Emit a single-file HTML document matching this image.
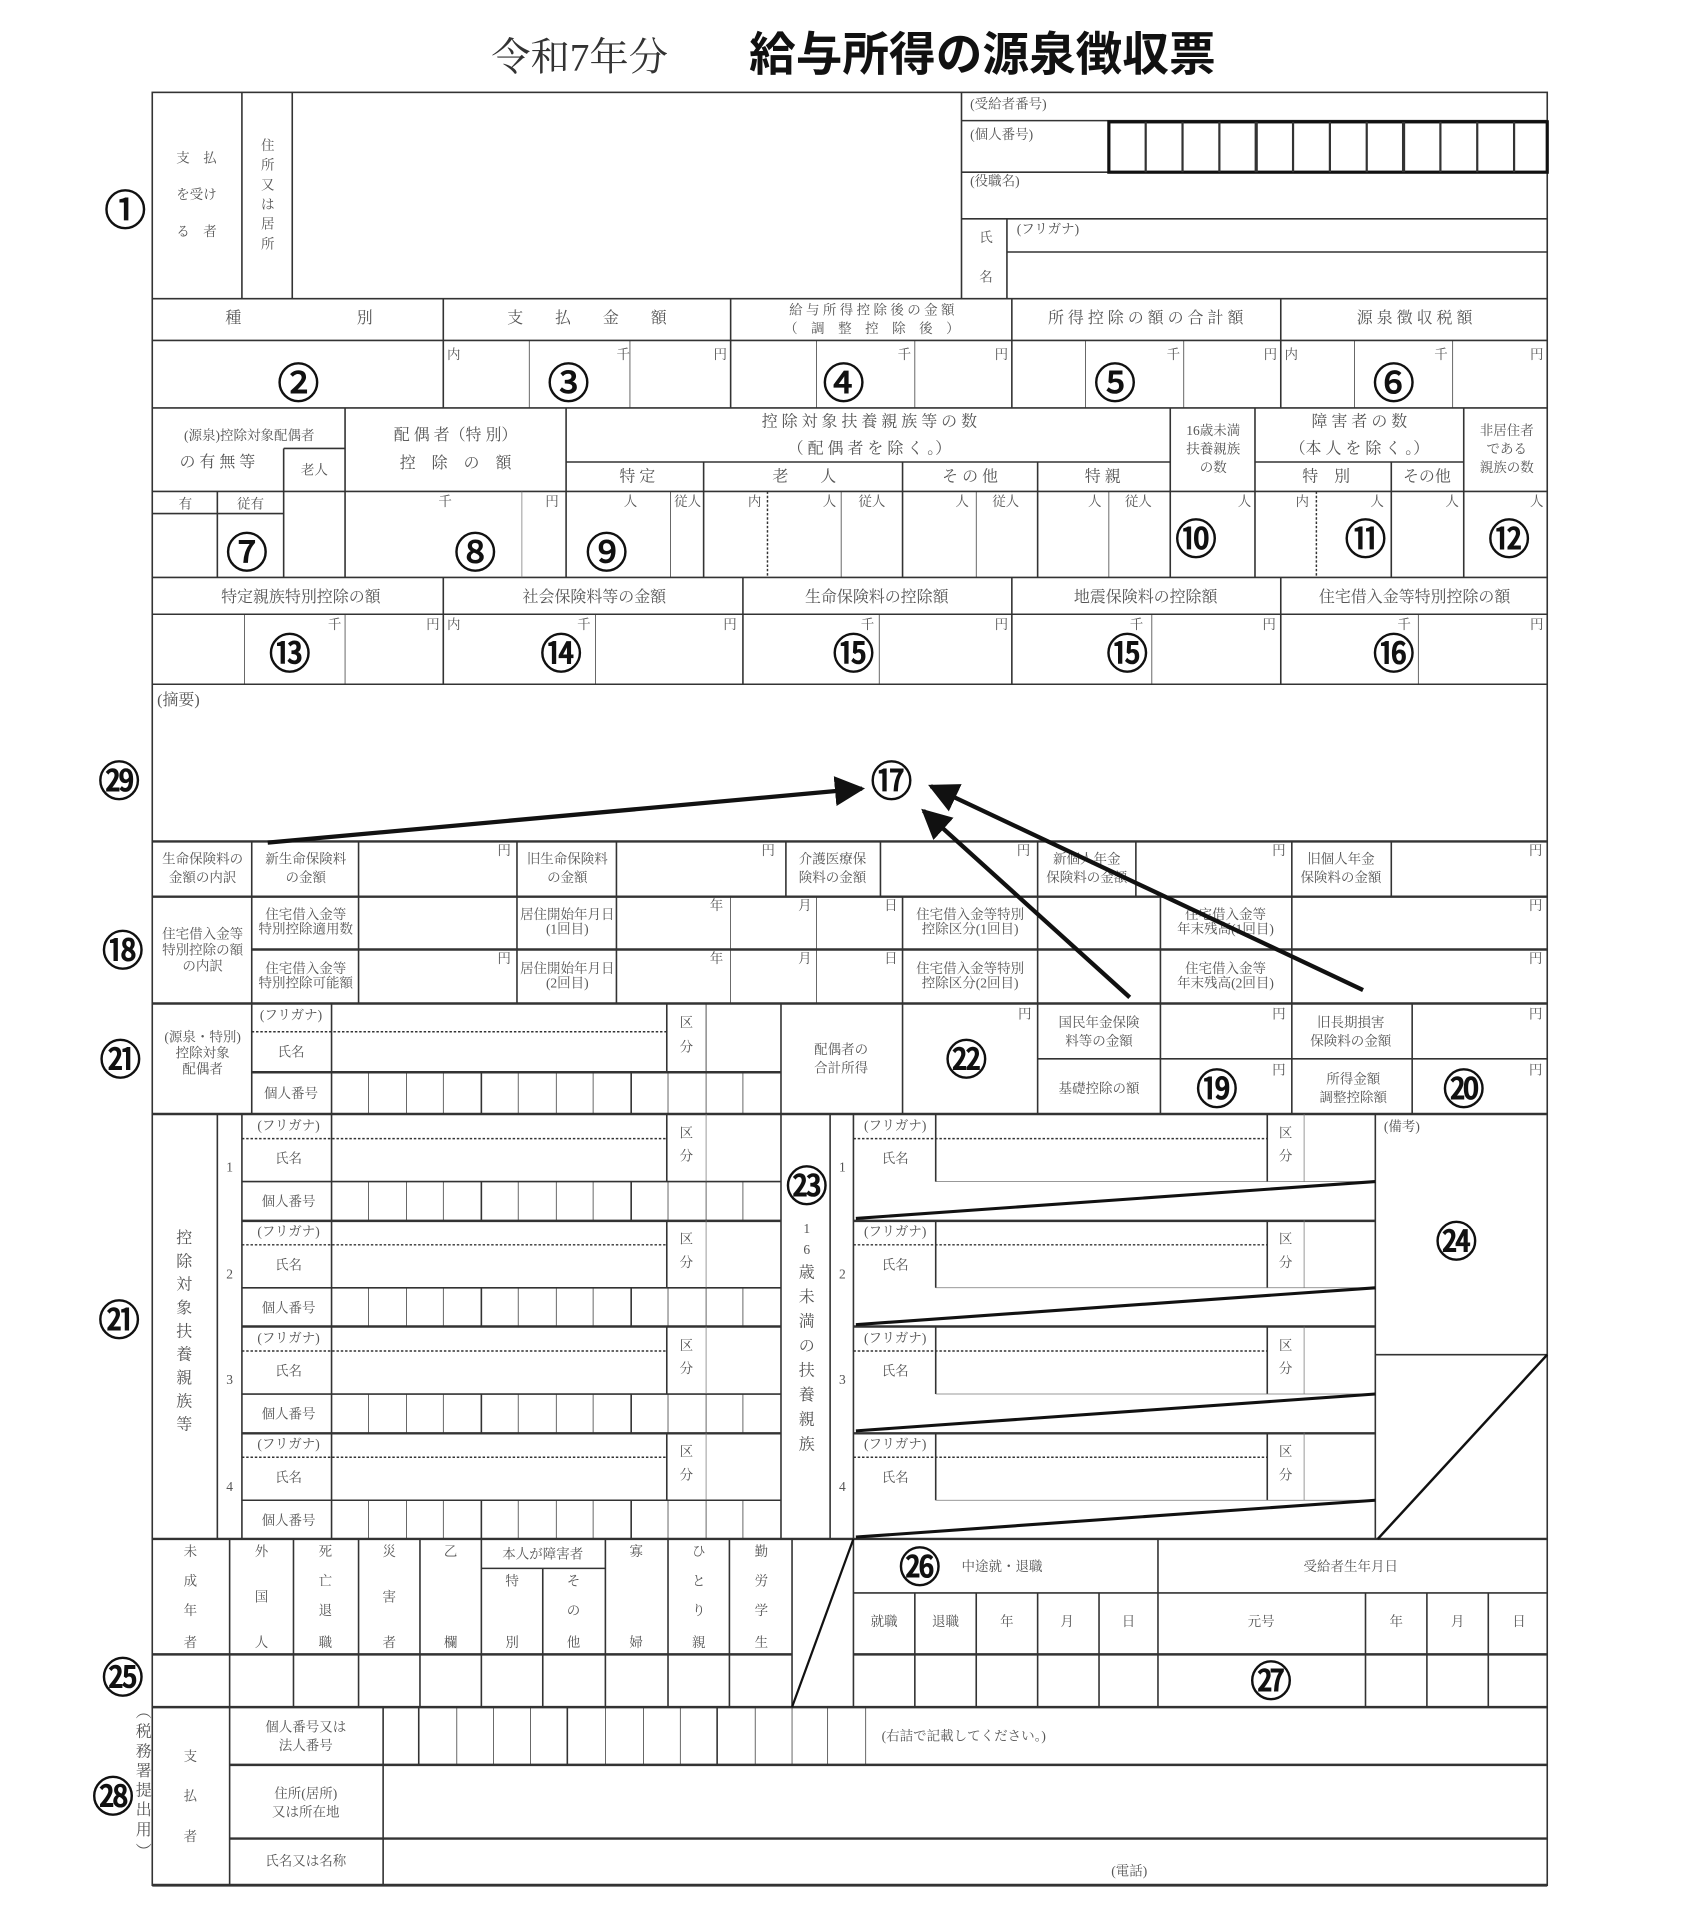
<!DOCTYPE html>
<html><head><meta charset="utf-8">
<style>
html,body{margin:0;padding:0;background:#fff;}
svg{display:block;}
text{font-family:"Liberation Serif","Noto Serif CJK SC","Noto Sans CJK JP",serif;fill:#555;}
.s{font-size:11px;}
.m{font-size:13px;}
.c{font-size:34px;fill:#111;stroke:#111;stroke-width:0.9;font-family:"Liberation Sans","Noto Sans CJK JP",sans-serif;}
line,polyline,rect{stroke:#333;fill:none;}
.t{stroke-width:0.6;stroke:#777;}
.n{stroke-width:1.3;}
.b{stroke-width:2.6;stroke:#111;}
.d{stroke-width:1.2;stroke-dasharray:2 1.5;}
</style></head><body>
<svg width="1686" height="1926" viewBox="0 0 1373 1568" xmlns="http://www.w3.org/2000/svg">
<defs><marker id="ah" viewBox="0 0 10 10" refX="9" refY="5" markerWidth="7" markerHeight="7" orient="auto"><path d="M0,0 L10,5 L0,10 z" fill="#111"/></marker></defs>
<!-- title -->
<text x="472" y="57" font-size="32" text-anchor="middle" style="fill:#333">令和7年分</text>
<text x="800" y="57" font-size="38" font-weight="bold" text-anchor="middle" style="fill:#111;font-family:'Liberation Sans','Noto Sans CJK JP',sans-serif">給与所得の源泉徴収票</text>
<!-- frame -->
<rect x="124" y="75" width="1136" height="1460" class="n"/>
<!-- section 1 -->
<line x1="197" y1="75" x2="197" y2="243" class="n"/>
<line x1="238" y1="75" x2="238" y2="243" class="n"/>
<line x1="783" y1="75" x2="783" y2="243" class="n"/>
<text x="160" y="132" class="s" text-anchor="middle">支　払</text>
<text x="160" y="162" class="s" text-anchor="middle">を受け</text>
<text x="160" y="192" class="s" text-anchor="middle">る　者</text>
<text x="218" y="122" class="s" text-anchor="middle">住</text><text x="218" y="138" class="s" text-anchor="middle">所</text><text x="218" y="154" class="s" text-anchor="middle">又</text><text x="218" y="170" class="s" text-anchor="middle">は</text><text x="218" y="186" class="s" text-anchor="middle">居</text><text x="218" y="202" class="s" text-anchor="middle">所</text>
<line x1="783" y1="98" x2="1260" y2="98" class="n"/>
<line x1="783" y1="140" x2="1260" y2="140" class="n"/>
<line x1="783" y1="178" x2="1260" y2="178" class="n"/>
<line x1="820" y1="178" x2="820" y2="243" class="n"/>
<line x1="820" y1="205" x2="1260" y2="205" class="n"/>
<text x="790" y="88" class="s">(受給者番号)</text>
<text x="790" y="113" class="s">(個人番号)</text>
<text x="790" y="151" class="s">(役職名)</text>
<text x="828" y="190" class="s">(フリガナ)</text>
<text x="803" y="197" class="s" text-anchor="middle">氏</text>
<text x="803" y="229" class="s" text-anchor="middle">名</text>
<rect x="903" y="99" width="357" height="41" class="b"/>
<g class="n" style="stroke-width:1.8;stroke:#111">
<line x1="933" y1="99" x2="933" y2="140"/><line x1="963" y1="99" x2="963" y2="140"/><line x1="993" y1="99" x2="993" y2="140"/><line x1="1023" y1="99" x2="1023" y2="140" style="stroke-width:2.6"/><line x1="1053" y1="99" x2="1053" y2="140"/><line x1="1083" y1="99" x2="1083" y2="140"/><line x1="1113" y1="99" x2="1113" y2="140"/><line x1="1143" y1="99" x2="1143" y2="140" style="stroke-width:2.6"/><line x1="1173" y1="99" x2="1173" y2="140"/><line x1="1203" y1="99" x2="1203" y2="140"/><line x1="1233" y1="99" x2="1233" y2="140"/>
</g>
<text x="102" y="183" class="c" text-anchor="middle">①</text>
<!-- row 2 -->
<line x1="124" y1="243" x2="1260" y2="243" class="n"/>
<line x1="124" y1="277" x2="1260" y2="277" class="n"/>
<line x1="124" y1="332" x2="1260" y2="332" class="n"/>
<line x1="361" y1="243" x2="361" y2="332" class="n"/>
<line x1="595" y1="243" x2="595" y2="332" class="n"/>
<line x1="824" y1="243" x2="824" y2="332" class="n"/>
<line x1="1043" y1="243" x2="1043" y2="332" class="n"/>
<text x="190" y="263" class="m" text-anchor="middle">種</text><text x="297" y="263" class="m" text-anchor="middle">別</text>
<text x="478" y="263" class="m" text-anchor="middle">支　　払　　金　　額</text>
<text x="710" y="256" class="s" text-anchor="middle">給 与 所 得 控 除 後 の 金 額</text>
<text x="710" y="271" class="s" text-anchor="middle">（　調　整　控　除　後　）</text>
<text x="933" y="263" class="m" text-anchor="middle">所 得 控 除 の 額 の 合 計 額</text>
<text x="1152" y="263" class="m" text-anchor="middle">源 泉 徴 収 税 額</text>
<g class="t"><line x1="431" y1="277" x2="431" y2="332"/><line x1="513" y1="277" x2="513" y2="332"/><line x1="665" y1="277" x2="665" y2="332"/><line x1="745" y1="277" x2="745" y2="332"/><line x1="884" y1="277" x2="884" y2="332"/><line x1="964" y1="277" x2="964" y2="332"/><line x1="1103" y1="277" x2="1103" y2="332"/><line x1="1183" y1="277" x2="1183" y2="332"/></g>
<text x="364" y="292" class="s">内</text><text x="502" y="292" class="s">千</text><text x="581" y="292" class="s">円</text>
<text x="731" y="292" class="s">千</text><text x="810" y="292" class="s">円</text>
<text x="950" y="292" class="s">千</text><text x="1029" y="292" class="s">円</text>
<text x="1046" y="292" class="s">内</text><text x="1168" y="292" class="s">千</text><text x="1246" y="292" class="s">円</text>
<text x="243" y="324" class="c" text-anchor="middle">②</text>
<text x="463" y="324" class="c" text-anchor="middle">③</text>
<text x="687" y="324" class="c" text-anchor="middle">④</text>
<text x="908" y="324" class="c" text-anchor="middle">⑤</text>
<text x="1135" y="324" class="c" text-anchor="middle">⑥</text>
<!-- row 3 -->
<line x1="124" y1="470" x2="1260" y2="470" class="n"/>
<line x1="281" y1="332" x2="281" y2="470" class="n"/>
<line x1="461" y1="332" x2="461" y2="470" class="n"/>
<line x1="953" y1="332" x2="953" y2="470" class="n"/>
<line x1="1022" y1="332" x2="1022" y2="470" class="n"/>
<line x1="1192" y1="332" x2="1192" y2="470" class="n"/>
<line x1="124" y1="400" x2="1260" y2="400" class="n"/>
<line x1="231" y1="365" x2="281" y2="365" class="n"/>
<line x1="231" y1="365" x2="231" y2="470" class="n"/>
<line x1="177" y1="400" x2="177" y2="470" class="n"/>
<line x1="124" y1="418" x2="231" y2="418" class="n"/>
<text x="203" y="358" class="s" text-anchor="middle">(源泉)控除対象配偶者</text>
<text x="177" y="380" class="m" text-anchor="middle">の 有 無 等</text>
<text x="256" y="386" class="s" text-anchor="middle">老人</text>
<text x="151" y="414" class="s" text-anchor="middle">有</text><text x="204" y="414" class="s" text-anchor="middle">従有</text>
<text x="371" y="358" class="m" text-anchor="middle">配 偶 者（特 別）</text>
<text x="371" y="381" class="m" text-anchor="middle">控　除　の　額</text>
<line x1="425" y1="400" x2="425" y2="470" class="t"/>
<text x="357" y="412" class="s">千</text><text x="444" y="412" class="s">円</text>
<text x="708" y="347" class="m" text-anchor="middle">控 除 対 象 扶 養 親 族 等 の 数</text>
<text x="708" y="369" class="m" text-anchor="middle">（ 配 偶 者 を 除 く 。）</text>
<line x1="461" y1="376" x2="953" y2="376" class="n"/>
<line x1="573" y1="376" x2="573" y2="470" class="n"/>
<line x1="735" y1="376" x2="735" y2="470" class="n"/>
<line x1="845" y1="376" x2="845" y2="470" class="n"/>
<text x="519" y="392" class="m" text-anchor="middle">特 定</text>
<text x="655" y="392" class="m" text-anchor="middle">老　　人</text>
<text x="790" y="392" class="m" text-anchor="middle">そ の 他</text>
<text x="898" y="392" class="m" text-anchor="middle">特 親</text>
<g class="t"><line x1="546" y1="400" x2="546" y2="470"/><line x1="685" y1="400" x2="685" y2="470"/><line x1="795" y1="400" x2="795" y2="470"/><line x1="903" y1="400" x2="903" y2="470"/></g>
<line x1="625" y1="400" x2="625" y2="470" class="d"/>
<line x1="1072" y1="400" x2="1072" y2="470" class="d"/>
<text x="508" y="412" class="s">人</text><text x="549" y="412" class="s">従人</text>
<text x="609" y="412" class="s">内</text><text x="670" y="412" class="s">人</text><text x="699" y="412" class="s">従人</text>
<text x="778" y="412" class="s">人</text><text x="808" y="412" class="s">従人</text>
<text x="886" y="412" class="s">人</text><text x="916" y="412" class="s">従人</text>
<text x="988" y="354" class="s" text-anchor="middle">16歳未満</text>
<text x="988" y="369" class="s" text-anchor="middle">扶養親族</text>
<text x="988" y="384" class="s" text-anchor="middle">の数</text>
<text x="1008" y="412" class="s">人</text>
<text x="1107" y="347" class="m" text-anchor="middle">障 害 者 の 数</text>
<text x="1107" y="369" class="m" text-anchor="middle">（本 人 を 除 く 。）</text>
<line x1="1022" y1="376" x2="1192" y2="376" class="n"/>
<line x1="1133" y1="376" x2="1133" y2="470" class="n"/>
<text x="1080" y="392" class="m" text-anchor="middle">特　別</text>
<text x="1162" y="392" class="m" text-anchor="middle">その他</text>
<text x="1055" y="412" class="s">内</text><text x="1116" y="412" class="s">人</text><text x="1177" y="412" class="s">人</text>
<text x="1227" y="354" class="s" text-anchor="middle">非居住者</text>
<text x="1227" y="369" class="s" text-anchor="middle">である</text>
<text x="1227" y="384" class="s" text-anchor="middle">親族の数</text>
<text x="1246" y="412" class="s">人</text>
<text x="201" y="462" class="c" text-anchor="middle">⑦</text>
<text x="387" y="462" class="c" text-anchor="middle">⑧</text>
<text x="494" y="462" class="c" text-anchor="middle">⑨</text>
<text x="974" y="451" class="c" text-anchor="middle">⑩</text>
<text x="1112" y="451" class="c" text-anchor="middle">⑪</text>
<text x="1229" y="451" class="c" text-anchor="middle">⑫</text>
<!-- row 4 -->
<line x1="124" y1="500" x2="1260" y2="500" class="n"/>
<line x1="124" y1="557" x2="1260" y2="557" class="n"/>
<line x1="361" y1="470" x2="361" y2="557" class="n"/>
<line x1="605" y1="470" x2="605" y2="557" class="n"/>
<line x1="824" y1="470" x2="824" y2="557" class="n"/>
<line x1="1043" y1="470" x2="1043" y2="557" class="n"/>
<text x="245" y="490" class="m" text-anchor="middle">特定親族特別控除の額</text>
<text x="484" y="490" class="m" text-anchor="middle">社会保険料等の金額</text>
<text x="714" y="490" class="m" text-anchor="middle">生命保険料の控除額</text>
<text x="933" y="490" class="m" text-anchor="middle">地震保険料の控除額</text>
<text x="1152" y="490" class="m" text-anchor="middle">住宅借入金等特別控除の額</text>
<g class="t"><line x1="199" y1="500" x2="199" y2="557"/><line x1="281" y1="500" x2="281" y2="557"/><line x1="485" y1="500" x2="485" y2="557"/><line x1="716" y1="500" x2="716" y2="557"/><line x1="938" y1="500" x2="938" y2="557"/><line x1="1155" y1="500" x2="1155" y2="557"/></g>
<text x="267" y="512" class="s">千</text><text x="347" y="512" class="s">円</text>
<text x="364" y="512" class="s">内</text><text x="470" y="512" class="s">千</text><text x="589" y="512" class="s">円</text>
<text x="701" y="512" class="s">千</text><text x="810" y="512" class="s">円</text>
<text x="920" y="512" class="s">千</text><text x="1028" y="512" class="s">円</text>
<text x="1138" y="512" class="s">千</text><text x="1246" y="512" class="s">円</text>
<text x="236" y="544" class="c" text-anchor="middle">⑬</text>
<text x="457" y="544" class="c" text-anchor="middle">⑭</text>
<text x="695" y="544" class="c" text-anchor="middle">⑮</text>
<text x="918" y="544" class="c" text-anchor="middle">⑮</text>
<text x="1135" y="544" class="c" text-anchor="middle">⑯</text>
<!-- tekiyou -->
<text x="128" y="574" class="m">(摘要)</text>
<text x="726" y="648" class="c" text-anchor="middle">⑰</text>
<text x="97" y="648" class="c" text-anchor="middle">㉙</text>
<line x1="124" y1="685" x2="1260" y2="685" class="n" style="stroke-width:2"/>
<!-- life insurance row -->
<line x1="124" y1="730" x2="1260" y2="730" class="n" style="stroke-width:2"/>
<g class="n"><line x1="205" y1="685" x2="205" y2="817"/><line x1="292" y1="685" x2="292" y2="817"/><line x1="421" y1="685" x2="421" y2="817"/><line x1="502" y1="685" x2="502" y2="817"/><line x1="640" y1="685" x2="640" y2="730"/><line x1="717" y1="685" x2="717" y2="730"/><line x1="845" y1="685" x2="845" y2="730"/><line x1="925" y1="685" x2="925" y2="730"/><line x1="1052" y1="685" x2="1052" y2="817"/><line x1="1133" y1="685" x2="1133" y2="730"/></g>
<text x="165" y="703" class="s" text-anchor="middle">生命保険料の</text><text x="165" y="718" class="s" text-anchor="middle">金額の内訳</text>
<text x="249" y="703" class="s" text-anchor="middle">新生命保険料</text><text x="249" y="718" class="s" text-anchor="middle">の金額</text>
<text x="462" y="703" class="s" text-anchor="middle">旧生命保険料</text><text x="462" y="718" class="s" text-anchor="middle">の金額</text>
<text x="678" y="703" class="s" text-anchor="middle">介護医療保</text><text x="678" y="718" class="s" text-anchor="middle">険料の金額</text>
<text x="885" y="703" class="s" text-anchor="middle">新個人年金</text><text x="885" y="718" class="s" text-anchor="middle">保険料の金額</text>
<text x="1092" y="703" class="s" text-anchor="middle">旧個人年金</text><text x="1092" y="718" class="s" text-anchor="middle">保険料の金額</text>
<text x="405" y="696" class="s">円</text><text x="620" y="696" class="s">円</text><text x="828" y="696" class="s">円</text><text x="1036" y="696" class="s">円</text><text x="1245" y="696" class="s">円</text>
<!-- housing row -->
<line x1="205" y1="773" x2="1260" y2="773" class="n" style="stroke-width:2"/>
<line x1="124" y1="817" x2="1260" y2="817" class="n" style="stroke-width:2"/>
<g class="n"><line x1="595" y1="730" x2="595" y2="817" style="stroke-width:0.6"/><line x1="665" y1="730" x2="665" y2="817" style="stroke-width:0.6"/><line x1="735" y1="730" x2="735" y2="817"/><line x1="845" y1="730" x2="845" y2="817"/><line x1="945" y1="730" x2="945" y2="817"/></g>
<text x="165" y="764" class="s" text-anchor="middle">住宅借入金等</text><text x="165" y="777" class="s" text-anchor="middle">特別控除の額</text><text x="165" y="790" class="s" text-anchor="middle">の内訳</text>
<text x="249" y="748" class="s" text-anchor="middle" font-size="9">住宅借入金等</text><text x="249" y="760" class="s" text-anchor="middle" font-size="9">特別控除適用数</text>
<text x="249" y="792" class="s" text-anchor="middle" font-size="9">住宅借入金等</text><text x="249" y="804" class="s" text-anchor="middle" font-size="9">特別控除可能額</text>
<text x="462" y="748" class="s" text-anchor="middle" font-size="9">居住開始年月日</text><text x="462" y="760" class="s" text-anchor="middle" font-size="9">(1回目)</text>
<text x="462" y="792" class="s" text-anchor="middle" font-size="9">居住開始年月日</text><text x="462" y="804" class="s" text-anchor="middle" font-size="9">(2回目)</text>
<text x="790" y="748" class="s" text-anchor="middle" font-size="9">住宅借入金等特別</text><text x="790" y="760" class="s" text-anchor="middle" font-size="9">控除区分(1回目)</text>
<text x="790" y="792" class="s" text-anchor="middle" font-size="9">住宅借入金等特別</text><text x="790" y="804" class="s" text-anchor="middle" font-size="9">控除区分(2回目)</text>
<text x="998" y="748" class="s" text-anchor="middle" font-size="10">住宅借入金等</text><text x="998" y="760" class="s" text-anchor="middle" font-size="9">年末残高(1回目)</text>
<text x="998" y="792" class="s" text-anchor="middle" font-size="10">住宅借入金等</text><text x="998" y="804" class="s" text-anchor="middle" font-size="9">年末残高(2回目)</text>
<text x="405" y="784" class="s">円</text>
<text x="578" y="741" class="s">年</text><text x="650" y="741" class="s">月</text><text x="720" y="741" class="s">日</text>
<text x="578" y="784" class="s">年</text><text x="650" y="784" class="s">月</text><text x="720" y="784" class="s">日</text>
<text x="1245" y="741" class="s">円</text><text x="1245" y="784" class="s">円</text>
<text x="100" y="786" class="c" text-anchor="middle">⑱</text>
<!-- arrows -->
<line x1="218" y1="686" x2="702" y2="642" style="stroke:#111;stroke-width:3.5" marker-end="url(#ah)"/>
<line x1="920" y1="812" x2="752" y2="660" style="stroke:#111;stroke-width:3.5" marker-end="url(#ah)"/>
<line x1="1110" y1="806" x2="758" y2="640" style="stroke:#111;stroke-width:3.5" marker-end="url(#ah)"/>
<!-- spouse row -->
<line x1="124" y1="907" x2="1260" y2="907" class="n" style="stroke-width:2"/>
<g class="n"><line x1="205" y1="817" x2="205" y2="907"/><line x1="270" y1="817" x2="270" y2="907"/><line x1="543" y1="817" x2="543" y2="873"/><line x1="575" y1="817" x2="575" y2="873" style="stroke-width:0.7"/><line x1="636" y1="817" x2="636" y2="907"/><line x1="735" y1="817" x2="735" y2="907"/><line x1="845" y1="817" x2="845" y2="907"/><line x1="945" y1="817" x2="945" y2="907"/><line x1="1052" y1="817" x2="1052" y2="907"/><line x1="1150" y1="817" x2="1150" y2="907"/></g>
<line x1="205" y1="873" x2="636" y2="873" class="n" style="stroke-width:2"/>
<line x1="205" y1="840" x2="543" y2="840" class="d"/>
<line x1="845" y1="862" x2="1260" y2="862" class="n"/>
<g class="t"><line x1="300" y1="873" x2="300" y2="907"/><line x1="331" y1="873" x2="331" y2="907"/><line x1="361" y1="873" x2="361" y2="907"/><line x1="392" y1="873" x2="392" y2="907" style="stroke-width:1.3;stroke:#333"/><line x1="422" y1="873" x2="422" y2="907"/><line x1="453" y1="873" x2="453" y2="907"/><line x1="483" y1="873" x2="483" y2="907"/><line x1="514" y1="873" x2="514" y2="907" style="stroke-width:1.3;stroke:#333"/><line x1="544" y1="873" x2="544" y2="907"/><line x1="575" y1="873" x2="575" y2="907"/><line x1="605" y1="873" x2="605" y2="907"/></g>
<text x="165" y="848" class="s" text-anchor="middle" font-size="10">(源泉・特別)</text><text x="165" y="861" class="s" text-anchor="middle">控除対象</text><text x="165" y="874" class="s" text-anchor="middle">配偶者</text>
<text x="237" y="830" class="s" text-anchor="middle">(フリガナ)</text>
<text x="237" y="860" class="s" text-anchor="middle">氏名</text>
<text x="237" y="894" class="s" text-anchor="middle">個人番号</text>
<text x="559" y="836" class="s" text-anchor="middle">区</text><text x="559" y="856" class="s" text-anchor="middle">分</text>
<text x="685" y="858" class="s" text-anchor="middle">配偶者の</text><text x="685" y="873" class="s" text-anchor="middle">合計所得</text>
<text x="787" y="875" class="c" text-anchor="middle">㉒</text>
<text x="829" y="829" class="s">円</text><text x="1036" y="829" class="s">円</text><text x="1245" y="829" class="s">円</text>
<text x="1036" y="875" class="s">円</text><text x="1245" y="875" class="s">円</text>
<text x="895" y="836" class="s" text-anchor="middle">国民年金保険</text><text x="895" y="851" class="s" text-anchor="middle">料等の金額</text>
<text x="1100" y="836" class="s" text-anchor="middle">旧長期損害</text><text x="1100" y="851" class="s" text-anchor="middle">保険料の金額</text>
<text x="895" y="890" class="s" text-anchor="middle">基礎控除の額</text>
<text x="991" y="899" class="c" text-anchor="middle">⑲</text>
<text x="1102" y="882" class="s" text-anchor="middle">所得金額</text><text x="1102" y="897" class="s" text-anchor="middle">調整控除額</text>
<text x="1192" y="899" class="c" text-anchor="middle">⑳</text>
<text x="98" y="875" class="c" text-anchor="middle">㉑</text>
<!-- dependents -->
<line x1="124" y1="1253" x2="1260" y2="1253" class="n" style="stroke-width:2"/>
<g class="n"><line x1="177" y1="907" x2="177" y2="1253"/><line x1="197" y1="907" x2="197" y2="1253"/><line x1="270" y1="907" x2="270" y2="1253"/><line x1="636" y1="907" x2="636" y2="1253"/><line x1="676" y1="907" x2="676" y2="1253"/><line x1="695" y1="907" x2="695" y2="1253"/><line x1="1120" y1="907" x2="1120" y2="1253"/></g>
<text x="150" y="1012" class="m" text-anchor="middle">控</text><text x="150" y="1031" class="m" text-anchor="middle">除</text><text x="150" y="1050" class="m" text-anchor="middle">対</text><text x="150" y="1069" class="m" text-anchor="middle">象</text><text x="150" y="1088" class="m" text-anchor="middle">扶</text><text x="150" y="1107" class="m" text-anchor="middle">養</text><text x="150" y="1126" class="m" text-anchor="middle">親</text><text x="150" y="1145" class="m" text-anchor="middle">族</text><text x="150" y="1164" class="m" text-anchor="middle">等</text>
<text x="97" y="1087" class="c" text-anchor="middle">㉑</text>
<text x="657" y="978" class="c" text-anchor="middle">㉓</text>
<text x="657" y="1004" class="s" text-anchor="middle">1</text><text x="657" y="1021" class="s" text-anchor="middle">6</text><text x="657" y="1040" class="m" text-anchor="middle">歳</text><text x="657" y="1060" class="m" text-anchor="middle">未</text><text x="657" y="1080" class="m" text-anchor="middle">満</text><text x="657" y="1100" class="m" text-anchor="middle">の</text><text x="657" y="1120" class="m" text-anchor="middle">扶</text><text x="657" y="1140" class="m" text-anchor="middle">養</text><text x="657" y="1160" class="m" text-anchor="middle">親</text><text x="657" y="1180" class="m" text-anchor="middle">族</text>
<g>
<line x1="197" y1="994" x2="636" y2="994" class="n" style="stroke-width:2"/><line x1="695" y1="994" x2="1120" y2="994" class="n" style="stroke-width:2"/>
<line x1="197" y1="1080" x2="636" y2="1080" class="n" style="stroke-width:2"/><line x1="695" y1="1080" x2="1120" y2="1080" class="n" style="stroke-width:2"/>
<line x1="197" y1="1167" x2="636" y2="1167" class="n" style="stroke-width:2"/><line x1="695" y1="1167" x2="1120" y2="1167" class="n" style="stroke-width:2"/>
</g>
<g id="blk">
<line x1="270" y1="962" x2="636" y2="962" class="n"/>
<line x1="197" y1="962" x2="270" y2="962" class="n"/>
<line x1="197" y1="927" x2="543" y2="927" class="d"/>
<line x1="543" y1="907" x2="543" y2="962" class="n"/><line x1="575" y1="907" x2="575" y2="962" class="t"/>
<g class="t"><line x1="300" y1="962" x2="300" y2="994"/><line x1="331" y1="962" x2="331" y2="994"/><line x1="361" y1="962" x2="361" y2="994"/><line x1="392" y1="962" x2="392" y2="994" style="stroke-width:1.3;stroke:#333"/><line x1="422" y1="962" x2="422" y2="994"/><line x1="453" y1="962" x2="453" y2="994"/><line x1="483" y1="962" x2="483" y2="994"/><line x1="514" y1="962" x2="514" y2="994" style="stroke-width:1.3;stroke:#333"/><line x1="544" y1="962" x2="544" y2="994"/><line x1="575" y1="962" x2="575" y2="994"/><line x1="605" y1="962" x2="605" y2="994"/></g>
<text x="235" y="920" class="s" text-anchor="middle">(フリガナ)</text>
<text x="235" y="947" class="s" text-anchor="middle">氏名</text>
<text x="235" y="982" class="s" text-anchor="middle">個人番号</text>
<text x="559" y="926" class="s" text-anchor="middle">区</text><text x="559" y="945" class="s" text-anchor="middle">分</text>
<line x1="695" y1="927" x2="1032" y2="927" class="d"/>
<line x1="762" y1="907" x2="762" y2="962" class="n"/><line x1="1032" y1="907" x2="1032" y2="962" class="n"/><line x1="1062" y1="907" x2="1062" y2="962" class="t"/>
<line x1="762" y1="962" x2="1120" y2="962" class="t"/>
<text x="729" y="920" class="s" text-anchor="middle">(フリガナ)</text>
<text x="729" y="947" class="s" text-anchor="middle">氏名</text>
<text x="1047" y="926" class="s" text-anchor="middle">区</text><text x="1047" y="945" class="s" text-anchor="middle">分</text>
<line x1="697" y1="992" x2="1120" y2="962" style="stroke:#111;stroke-width:2.5"/>
</g>
<use href="#blk" y="86.5"/>
<use href="#blk" y="173"/>
<use href="#blk" y="259.5"/>
<text x="187" y="954" class="s" text-anchor="middle">1</text><text x="187" y="1041" class="s" text-anchor="middle">2</text><text x="187" y="1127" class="s" text-anchor="middle">3</text><text x="187" y="1214" class="s" text-anchor="middle">4</text>
<text x="686" y="954" class="s" text-anchor="middle">1</text><text x="686" y="1041" class="s" text-anchor="middle">2</text><text x="686" y="1127" class="s" text-anchor="middle">3</text><text x="686" y="1214" class="s" text-anchor="middle">4</text>
<!-- remarks -->
<text x="1127" y="921" class="s">(備考)</text>
<text x="1186" y="1023" class="c" text-anchor="middle">㉔</text>
<line x1="1120" y1="1103" x2="1260" y2="1103" class="n"/>
<line x1="1122" y1="1253" x2="1260" y2="1103" style="stroke:#111;stroke-width:2"/>
<!-- row 25 -->
<line x1="124" y1="1347" x2="645" y2="1347" class="n" style="stroke-width:2"/>
<line x1="695" y1="1347" x2="1260" y2="1347" class="n" style="stroke-width:2"/>
<line x1="124" y1="1390" x2="1260" y2="1390" class="n" style="stroke-width:2"/>
<g class="n"><line x1="187" y1="1253" x2="187" y2="1390"/><line x1="239" y1="1253" x2="239" y2="1390"/><line x1="292" y1="1253" x2="292" y2="1390"/><line x1="342" y1="1253" x2="342" y2="1390"/><line x1="392" y1="1253" x2="392" y2="1390"/><line x1="442" y1="1277" x2="442" y2="1390"/><line x1="493" y1="1253" x2="493" y2="1390"/><line x1="544" y1="1253" x2="544" y2="1390"/><line x1="594" y1="1253" x2="594" y2="1390"/><line x1="645" y1="1253" x2="645" y2="1390"/><line x1="695" y1="1253" x2="695" y2="1390"/><line x1="745" y1="1297" x2="745" y2="1390"/><line x1="795" y1="1297" x2="795" y2="1390"/><line x1="845" y1="1297" x2="845" y2="1390"/><line x1="895" y1="1297" x2="895" y2="1390"/><line x1="943" y1="1253" x2="943" y2="1390"/><line x1="1112" y1="1297" x2="1112" y2="1390"/><line x1="1162" y1="1297" x2="1162" y2="1390"/><line x1="1212" y1="1297" x2="1212" y2="1390"/></g>
<line x1="392" y1="1277" x2="493" y2="1277" class="n"/>
<line x1="695" y1="1297" x2="1260" y2="1297" class="n"/>
<line x1="645" y1="1390" x2="695" y2="1253" style="stroke:#111;stroke-width:1.8"/>
<g class="s" text-anchor="middle">
<text x="155" y="1267">未</text><text x="155" y="1291">成</text><text x="155" y="1315">年</text><text x="155" y="1341">者</text>
<text x="213" y="1267">外</text><text x="213" y="1304">国</text><text x="213" y="1341">人</text>
<text x="265" y="1267">死</text><text x="265" y="1291">亡</text><text x="265" y="1315">退</text><text x="265" y="1341">職</text>
<text x="317" y="1267">災</text><text x="317" y="1304">害</text><text x="317" y="1341">者</text>
<text x="367" y="1267">乙</text><text x="367" y="1341">欄</text>
<text x="442" y="1269">本人が障害者</text>
<text x="417" y="1291">特</text><text x="417" y="1341">別</text>
<text x="467" y="1291">そ</text><text x="467" y="1315">の</text><text x="467" y="1341">他</text>
<text x="518" y="1267">寡</text><text x="518" y="1341">婦</text>
<text x="569" y="1267">ひ</text><text x="569" y="1291">と</text><text x="569" y="1315">り</text><text x="569" y="1341">親</text>
<text x="620" y="1267">勤</text><text x="620" y="1291">労</text><text x="620" y="1315">学</text><text x="620" y="1341">生</text>
<text x="720" y="1324">就職</text><text x="770" y="1324">退職</text><text x="820" y="1324">年</text><text x="869" y="1324">月</text><text x="919" y="1324">日</text>
<text x="1027" y="1324">元号</text><text x="1137" y="1324">年</text><text x="1187" y="1324">月</text><text x="1237" y="1324">日</text>
<text x="1100" y="1279">受給者生年月日</text>
</g>
<text x="749" y="1288" class="c" text-anchor="middle">㉖</text>
<text x="783" y="1279" class="s">中途就・退職</text>
<text x="1035" y="1381" class="c" text-anchor="middle">㉗</text>
<text x="100" y="1378" class="c" text-anchor="middle">㉕</text>
<!-- row 28 -->
<line x1="187" y1="1390" x2="187" y2="1535" class="n"/>
<line x1="312" y1="1390" x2="312" y2="1535" class="n"/>
<line x1="187" y1="1437" x2="1260" y2="1437" class="n" style="stroke-width:2"/>
<line x1="187" y1="1497" x2="1260" y2="1497" class="n" style="stroke-width:2"/>
<line x1="124" y1="1535" x2="1260" y2="1535" class="n" style="stroke-width:2.4"/>
<g class="t"><line x1="341" y1="1390" x2="341" y2="1437" style="stroke-width:1.3;stroke:#333"/><line x1="372" y1="1390" x2="372" y2="1437"/><line x1="402" y1="1390" x2="402" y2="1437"/><line x1="432" y1="1390" x2="432" y2="1437"/><line x1="462" y1="1390" x2="462" y2="1437" style="stroke-width:1.3;stroke:#333"/><line x1="493" y1="1390" x2="493" y2="1437"/><line x1="524" y1="1390" x2="524" y2="1437"/><line x1="554" y1="1390" x2="554" y2="1437"/><line x1="584" y1="1390" x2="584" y2="1437" style="stroke-width:1.3;stroke:#333"/><line x1="615" y1="1390" x2="615" y2="1437"/><line x1="645" y1="1390" x2="645" y2="1437"/><line x1="674" y1="1390" x2="674" y2="1437"/><line x1="705" y1="1390" x2="705" y2="1437"/></g>
<text x="155" y="1434" class="s" text-anchor="middle">支</text><text x="155" y="1466" class="s" text-anchor="middle">払</text><text x="155" y="1499" class="s" text-anchor="middle">者</text>
<text x="249" y="1410" class="s" text-anchor="middle">個人番号又は</text><text x="249" y="1425" class="s" text-anchor="middle">法人番号</text>
<text x="249" y="1464" class="s" text-anchor="middle">住所(居所)</text><text x="249" y="1479" class="s" text-anchor="middle">又は所在地</text>
<text x="249" y="1519" class="s" text-anchor="middle">氏名又は名称</text>
<text x="718" y="1417" class="s">(右詰で記載してください。)</text>
<text x="905" y="1527" class="s" font-size="9">(電話)</text>
<g class="s" text-anchor="middle" style="font-size:13px"><text x="117" y="1398">︵</text><text x="117" y="1414">税</text><text x="117" y="1430">務</text><text x="117" y="1446">署</text><text x="117" y="1462">提</text><text x="117" y="1478">出</text><text x="117" y="1494">用</text><text x="117" y="1512">︶</text></g>
<text x="92" y="1475" class="c" text-anchor="middle">㉘</text>
</svg>
</body></html>
